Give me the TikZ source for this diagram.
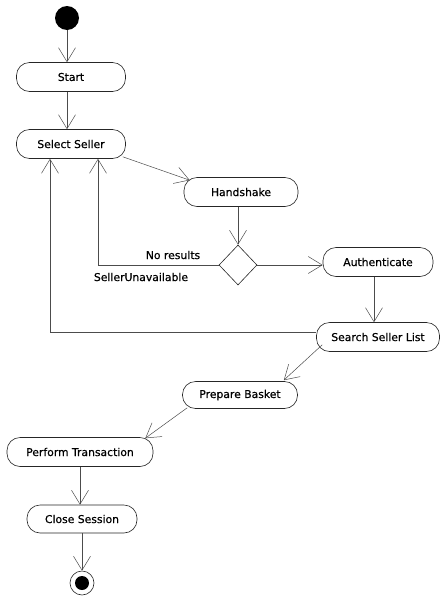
\documentclass[tikz,border=0pt]{standalone}
\usepackage{fontspec}
\setmainfont{DejaVu Sans}[FakeBold=0.6]
\usetikzlibrary{arrows.meta,shapes.geometric}
\begin{document}
\begin{tikzpicture}[x=1pt,y=-1pt,
  act/.style={draw=black!85, line width=0.6pt, rounded corners=13pt,
    minimum height=29pt, inner sep=0pt, font=\fontsize{10.8}{12}\selectfont},
  flow/.style={draw=black!70, line width=0.5pt,
    -{Straight Barb[length=14pt,width=17pt,line width=0.5pt]}},
  lbl/.style={font=\fontsize{10.8}{12}\selectfont, inner sep=0pt}]
\useasboundingbox (0,0) rectangle (441,600);
% start and end markers
\node (init) [circle, fill=black, minimum size=24pt, inner sep=0pt] at (67,18) {};
\node (fin) [circle, draw=black!85, line width=0.6pt, minimum size=24pt, inner sep=0pt] at (82,583) {};
\fill[black] (fin.center) circle (7pt);
% activities
\node (start) [act, minimum width=109pt] at (71,77) {Start};
\node (sel) [act, minimum width=109pt] at (71,144) {Select Seller};
\node (hand) [act, minimum width=114pt] at (241,192) {Handshake};
\node (dec) [diamond, draw=black!85, line width=0.6pt, minimum width=38pt, minimum height=40pt, inner sep=0pt] at (238,265) {};
\node (auth) [act, minimum width=110pt] at (378,262) {Authenticate};
\node (search) [act, minimum width=123pt] at (378,337) {Search Seller List};
\node (basket) [act, minimum width=115pt, minimum height=27pt] at (240,395) {Prepare Basket};
\node (trans) [act, minimum width=146pt] at (80,452) {Perform Transaction};
\node (close) [act, minimum width=110pt, minimum height=28pt] at (82,519) {Close Session};
% transitions
\draw[flow] (init) -- (init |- start.north);
\draw[flow] ([xshift=-4pt]start.south) -- ([xshift=-4pt]sel.north);
\draw[flow] ([shift={(-3pt,2pt)}]sel.south east) -- ([shift={(6pt,-3pt)}]hand.north west);
\draw[flow] (hand.south -| dec.north) -- (dec.north);
\draw[flow] (dec.east) -- (auth.west |- dec.east);
\draw[flow] (dec.west) -| ([xshift=27pt]sel.south);
\draw[flow] ([yshift=5pt]search.west) -| ([xshift=-21pt]sel.south);
\draw[flow] ([xshift=-4pt]auth.south) -- ([xshift=-4pt]search.north);
\draw[flow] ([shift={(6pt,7pt)}]search.south west) -- ([shift={(-14pt,1pt)}]basket.north east);
\draw[flow] ([shift={(5pt,1pt)}]basket.south west) -- ([shift={(-8pt,-1pt)}]trans.north east);
\draw[flow] (trans.south) -- (trans.south |- close.north);
\draw[flow] (close.south) -- (fin.north);
% guard labels
\node[lbl] (nores) at (173,255) {No results};
\node[lbl] (unav) at (141,277) {SellerUnavailable};
\end{tikzpicture}
\end{document}
